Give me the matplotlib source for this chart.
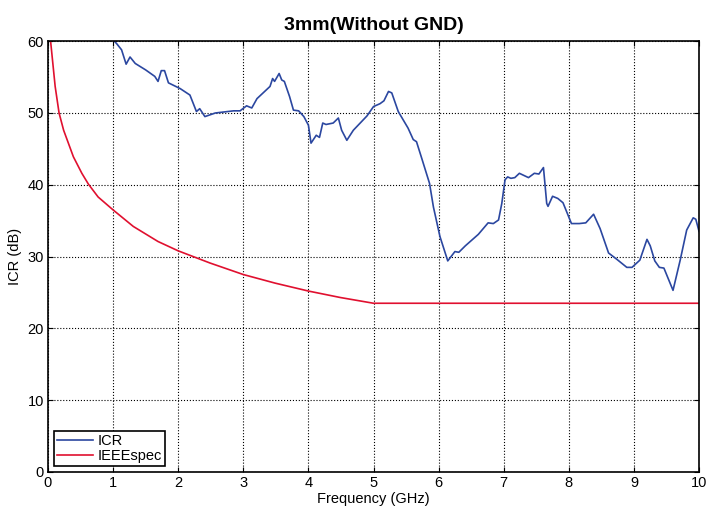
import numpy as np
import matplotlib.pyplot as plt

plt.rcParams['font.family'] = ['Liberation Sans', 'DejaVu Sans']

# ICR measured curve (GHz, dB)
icr_freq = [1.00, 1.06, 1.13, 1.20, 1.26, 1.34, 1.50, 1.64, 1.69, 1.74, 1.79, 1.85, 2.03, 2.18, 2.28, 2.33,
            2.41, 2.57, 2.85, 2.95, 3.05, 3.13, 3.21, 3.41, 3.45, 3.48, 3.55, 3.59, 3.63, 3.71, 3.77,
            3.85, 3.93, 4.00, 4.04, 4.12, 4.17, 4.22, 4.27, 4.38, 4.46, 4.51, 4.59, 4.69, 4.90, 5.00,
            5.10, 5.16, 5.23, 5.28, 5.38, 5.53, 5.61, 5.66, 5.74, 5.86, 5.92, 6.02, 6.14, 6.25, 6.31,
            6.41, 6.61, 6.76, 6.84, 6.92, 6.97, 7.02, 7.06, 7.11, 7.17, 7.24, 7.38, 7.47, 7.54, 7.61,
            7.66, 7.68, 7.75, 7.83, 7.91, 8.04, 8.16, 8.26, 8.38, 8.48, 8.61, 8.74, 8.89, 8.97, 9.09,
            9.20, 9.25, 9.32, 9.39, 9.46, 9.60, 9.71, 9.81, 9.91, 9.95, 10.00]
icr_db = [60.2, 59.6, 58.8, 56.8, 57.8, 56.9, 56.0, 55.1, 54.4, 55.9, 55.9, 54.2, 53.4, 52.5, 50.2, 50.6,
          49.5, 50.0, 50.3, 50.3, 51.0, 50.7, 52.0, 53.7, 54.8, 54.4, 55.5, 54.6, 54.4, 52.3, 50.4,
          50.3, 49.5, 48.3, 45.8, 46.9, 46.6, 48.6, 48.4, 48.6, 49.3, 47.6, 46.2, 47.6, 49.6, 50.9,
          51.3, 51.7, 53.0, 52.8, 50.2, 47.9, 46.3, 46.0, 43.7, 40.2, 36.9, 32.8, 29.4, 30.7, 30.6,
          31.5, 33.1, 34.7, 34.6, 35.1, 37.4, 40.7, 41.1, 40.9, 41.0, 41.6, 41.0, 41.6, 41.5, 42.4,
          37.4, 37.0, 38.4, 38.1, 37.5, 34.6, 34.6, 34.7, 35.9, 33.9, 30.5, 29.6, 28.5, 28.5, 29.5,
          32.4, 31.5, 29.4, 28.5, 28.4, 25.3, 29.5, 33.7, 35.4, 35.2, 33.5]

# IEEE spec limit
spec_freq = [0.04, 0.11, 0.17, 0.24, 0.39, 0.52, 0.62, 0.77, 1.00, 1.31, 1.69, 2.00, 2.49, 3.00,
             3.49, 4.00, 4.49, 5.00, 10.00]
spec_db = [60.0, 53.7, 50.0, 47.6, 43.9, 41.6, 40.1, 38.3, 36.5, 34.2, 32.1, 30.8, 29.1, 27.5,
           26.3, 25.2, 24.3, 23.5, 23.5]

fig = plt.figure(figsize=(7.1, 5.08), dpi=100)
ax = fig.add_axes([0.0676, 0.0709, 0.917, 0.848])

ax.plot(icr_freq, icr_db, color='#2b47a0', lw=1.2, label='ICR')
ax.plot(spec_freq, spec_db, color='#e0102f', lw=1.2, label='IEEEspec')

ax.set_xlim(0, 10)
ax.set_ylim(0, 60)
ax.set_xticks(range(0, 11))
ax.set_yticks(range(0, 61, 10))
ax.grid(True, color='black', linestyle=':', linewidth=0.8)
ax.tick_params(direction='in', top=True, right=True, labelsize=10.5, pad=3)
for s in ax.spines.values():
    s.set_linewidth(1.2)

ax.set_title('3mm(Without GND)', fontsize=14, fontweight='bold', pad=8,
             family=['Liberation Sans Narrow', 'Liberation Sans'])
ax.set_xlabel('Frequency (GHz)', fontsize=10.5, labelpad=1)
ax.set_ylabel('ICR (dB)', fontsize=10.5, labelpad=4)

leg = ax.legend(loc='lower left', fontsize=10.5, fancybox=False, framealpha=1,
                edgecolor='black', borderpad=0.2, handlelength=2.5, labelspacing=0.1,
                handletextpad=0.3, borderaxespad=0.4)
leg.get_frame().set_linewidth(1.2)

plt.savefig('out.png', dpi=100)
